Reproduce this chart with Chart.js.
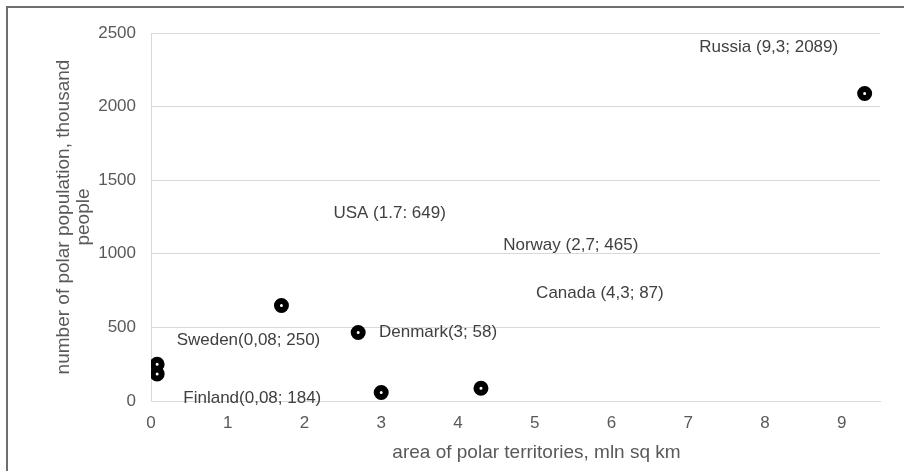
<!DOCTYPE html>
<html>
<head>
<meta charset="utf-8">
<script src="https://cdn.jsdelivr.net/npm/chart.js@4"></script>
<style>
  html, body { margin: 0; padding: 0; background: #fff; overflow: hidden; }
  #wrap { width: 904px; height: 471px; position: relative; }
</style>
</head>
<body>
<div id="wrap"><canvas id="polarChart" width="904" height="471"></canvas></div>
<script>
const countries = ['Russia', 'USA', 'Norway', 'Denmark', 'Canada', 'Sweden', 'Finland'];
const areas = [9.3, 1.7, 2.7, 3, 4.3, 0.08, 0.08];
const populations = [2089, 649, 465, 58, 87, 250, 184];
const labelTexts = ['Russia (9,3; 2089)', 'USA (1.7: 649)', 'Norway (2,7; 465)', 'Denmark(3; 58)',
    'Canada (4,3; 87)', 'Sweden(0,08; 250)', 'Finland(0,08; 184)'];
// where each (misplaced) data label sits, in axis units
const labelAtX = [8.05, 3.11, 5.47, 3.74, 5.85, 1.27, 1.32];
const labelAtY = [2405, 1277, 1060, 469, 734, 414, 20];
const xTicks = [0, 1, 2, 3, 4, 5, 6, 7, 8, 9];
const yTicks = [0, 500, 1000, 1500, 2000, 2500];
const xTitle = 'area of polar territories, mln sq km';

const FONT = "'Liberation Sans', Arial, sans-serif";

const framePlugin = {
    id: 'frame',
    beforeDraw(chart) {
        const ctx = chart.ctx;
        ctx.save();
        ctx.fillStyle = '#fff';
        ctx.fillRect(0, 0, chart.width, chart.height);
        ctx.strokeStyle = '#6e6e6e';
        ctx.lineWidth = 2;
        ctx.strokeRect(7, 7, 1000, 1000);
        ctx.restore();
    }
};

const labelPlugin = {
    id: 'pointLabels',
    afterDatasetsDraw(chart) {
        const ctx = chart.ctx;
        const xs = chart.scales.x, ys = chart.scales.y;
        ctx.save();
        ctx.font = '17px ' + FONT;
        ctx.fillStyle = '#404040';
        ctx.textAlign = 'center';
        ctx.textBaseline = 'middle';
        labelTexts.forEach((t, i) => {
            ctx.fillText(t, xs.getPixelForValue(labelAtX[i]), ys.getPixelForValue(labelAtY[i]));
        });
        // x axis title sits a little right of the plot centre in the original
        ctx.font = '19px ' + FONT;
        ctx.fillStyle = '#595959';
        ctx.fillText(xTitle, (chart.chartArea.left + chart.chartArea.right) / 2 + 21, 453);
        ctx.restore();
    }
};

new Chart(document.getElementById('polarChart'), {
    type: 'scatter',
    data: {
        datasets: [{
            label: 'polar population',
            data: countries.map((c, i) => ({ x: areas[i], y: populations[i] })),
            pointRadius: 4.5,
            pointHoverRadius: 4.5,
            pointBorderWidth: 6,
            pointBackgroundColor: '#ffffff',
            pointBorderColor: '#000000'
        }]
    },
    options: {
        responsive: false,
        animation: false,
        layout: { padding: { left: 0, top: 33, right: 24, bottom: 0 } },
        plugins: {
            legend: { display: false },
            tooltip: { enabled: false }
        },
        scales: {
            x: {
                type: 'linear',
                min: 0,
                max: 9.5,
                afterFit: (scale) => { scale.height = 70; },
                afterBuildTicks: (scale) => { scale.ticks = xTicks.map(v => ({ value: v })); },
                grid: { display: false, drawTicks: false },
                border: { display: true, color: '#d9d9d9', width: 1 },
                ticks: { color: '#595959', font: { family: FONT, size: 17 }, padding: 12, maxRotation: 0 },
                title: { display: false }
            },
            y: {
                min: 0,
                max: 2500,
                afterFit: (scale) => { scale.width = 151; },
                afterBuildTicks: (scale) => { scale.ticks = yTicks.map(v => ({ value: v })); },
                grid: { color: '#d9d9d9', drawTicks: false, lineWidth: 1 },
                border: { display: true, color: '#d9d9d9', width: 1 },
                ticks: {
                    color: '#595959',
                    font: { family: FONT, size: 17 },
                    padding: 15,
                    callback: (v) => String(v)
                },
                title: {
                    display: true,
                    text: ['number of polar population, thousand', 'people'],
                    color: '#595959',
                    font: { family: FONT, size: 19, lineHeight: 1.05 },
                    padding: { top: 54, bottom: 0 }
                }
            }
        }
    },
    plugins: [framePlugin, labelPlugin]
});
</script>
</body>
</html>
